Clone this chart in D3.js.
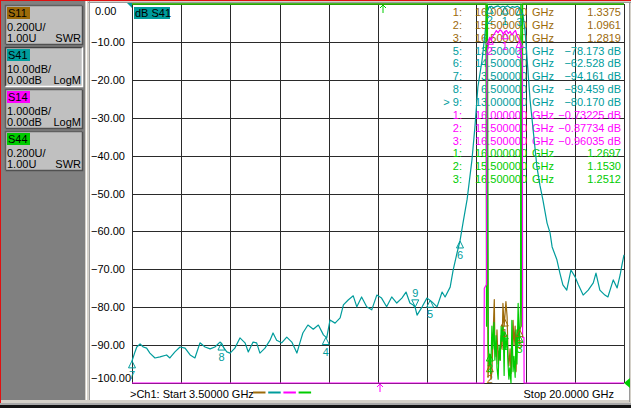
<!DOCTYPE html>
<html><head><meta charset="utf-8">
<script src="https://cdn.jsdelivr.net/npm/d3@7"></script>
<style>
html,body{margin:0;padding:0;background:#fff;overflow:hidden}
svg{display:block;font-family:"Liberation Sans",Arial,sans-serif;font-size:11px}
</style></head><body>
<svg id="c" width="631" height="408"></svg>
<script>
// ---------- data ----------
const startGHz = 3.5, stopGHz = 20.0;
const yTicksDb = [0,-10,-20,-30,-40,-50,-60,-70,-80,-90,-100];

const traceNames   = ["S11","S41","S14","S44"];
const traceColors  = ["#9c6a0a","#009c9c","#ff00ff","#00cc00"];
const traceScaleA  = ["0.200U/","10.00dB/","1.000dB/","0.200U/"];
const traceScaleB  = ["1.00U","0.00dB","0.00dB","1.00U"];
const traceFormat  = ["SWR","LogM","LogM","SWR"];

// S41 transmission (dB)
const freqS41 = [3.50,3.60,3.66,3.77,3.88,3.99,4.10,4.27,4.44,4.66,4.77,4.94,5.11,5.28,5.45,5.61,5.78,5.95,6.12,6.28,6.45,6.50,6.56,6.68,6.79,6.95,7.12,7.29,7.40,7.56,7.68,7.79,7.96,8.13,8.23,8.35,8.52,8.69,8.86,9.03,9.13,9.23,9.40,9.58,9.75,9.92,10.03,10.14,10.31,10.48,10.59,10.75,10.92,11.04,11.20,11.37,11.54,11.71,11.87,12.04,12.21,12.38,12.55,12.69,12.82,12.93,13.00,13.06,13.23,13.39,13.50,13.56,13.73,13.90,14.00,14.17,14.27,14.40,14.50,14.60,14.74,14.90,15.00,15.10,15.24,15.34,15.41,15.47,15.55,15.62,15.70,15.78,15.86,15.94,16.02,16.10,16.18,16.26,16.34,16.42,16.50,16.56,16.61,16.68,16.85,17.08,17.18,17.28,17.42,17.52,17.59,17.75,17.85,17.95,18.08,18.22,18.36,18.47,18.63,18.80,18.97,19.06,19.19,19.36,19.46,19.64,19.77,19.87,19.93,20.00];
const dbS41 = [-94.2,-91.8,-90.5,-89.7,-90.5,-90.8,-92.1,-93.4,-93.1,-92.6,-93.4,-91.8,-90.5,-90.8,-92.6,-93.4,-89.4,-90.5,-91.0,-90.5,-89.2,-89.5,-90.5,-91.8,-92.1,-90.8,-88.1,-89.4,-91.8,-89.2,-89.4,-92.1,-90.8,-88.7,-86.8,-88.7,-89.4,-87.9,-89.2,-92.1,-89.4,-86.8,-84.7,-85.8,-84.7,-87.3,-88.1,-83.4,-84.2,-82.8,-79.4,-78.1,-77.0,-79.9,-77.3,-79.9,-80.7,-76.8,-77.6,-79.9,-77.3,-78.9,-77.6,-76.0,-78.9,-79.4,-80.2,-82.1,-79.9,-77.6,-78.2,-78.6,-79.9,-76.0,-77.3,-74.7,-70.2,-65.7,-62.5,-57.8,-51.5,-41.2,-32.5,-21.9,-14.8,-7.7,-2.1,-0.8,-0.6,-1.0,-0.7,-0.5,-0.9,-0.6,-0.8,-0.5,-1.0,-0.7,-0.9,-0.6,-1.0,-1.6,-2.9,-6.9,-25.3,-43.0,-47.8,-51.7,-57.8,-60.4,-64.1,-67.5,-71.0,-74.1,-75.5,-70.2,-72.0,-74.1,-76.8,-75.5,-73.6,-71.0,-75.5,-76.8,-77.3,-72.8,-74.9,-71.5,-68.9,-66.2];

// S14 transmission (dB, 1 dB/div)
const freqS14 = [3.50,15.30,15.315,15.39,15.40,15.45,15.50,15.55,15.60,15.66,15.72,15.78,15.84,15.90,15.95,16.00,16.06,16.12,16.18,16.24,16.30,16.36,16.42,16.50,16.55,16.59,16.60,16.645,16.65,20.00];
const dbS14   = [-20,-15,-7.5,-7.4,-1.3,-1.1,-0.88,-0.95,-0.85,-0.78,-0.70,-0.76,-0.68,-0.72,-0.80,-0.73,-0.70,-0.78,-0.72,-0.82,-0.75,-0.70,-0.85,-0.96,-1.2,-1.6,-8.8,-8.8,-15,-20];

// S11 SWR
const freqS11 = [3.50,15.39,15.44,15.47,15.51,15.54,15.57,15.61,15.65,15.67,15.71,15.74,15.78,15.81,15.84,15.88,15.91,15.94,15.98,16.00,16.04,16.08,16.11,16.14,16.18,16.21,16.24,16.28,16.31,16.35,16.38,16.41,16.45,16.48,16.50,16.55,16.58,20.00];
const swrS11  = [5.0,4.0,1.03,1.12,1.09,1.02,1.06,1.25,1.44,1.20,1.14,1.28,1.10,1.17,1.12,1.25,1.18,1.42,1.30,1.34,1.43,1.35,1.15,1.09,1.18,1.05,1.12,1.33,1.20,1.30,1.06,1.22,1.28,1.24,1.28,1.30,4.0,5.0];

// S44 SWR
const freqS44 = [3.50,15.37,15.39,15.42,15.45,15.48,15.50,15.53,15.57,15.60,15.64,15.67,15.71,15.74,15.78,15.81,15.85,15.88,15.91,15.95,15.98,16.00,16.04,16.08,16.11,16.14,16.17,16.21,16.24,16.28,16.31,16.35,16.38,16.41,16.45,16.48,16.50,16.53,16.54,16.58,16.60,20.00];
const swrS44  = [5.0,4.0,1.30,4.0,1.20,1.10,1.153,1.05,1.30,1.18,1.32,1.12,1.25,1.08,1.02,1.20,1.12,1.30,1.22,1.30,1.04,1.27,1.18,1.25,1.10,1.02,1.08,1.00,1.33,1.06,1.14,1.03,1.28,1.10,1.42,1.20,1.25,1.40,4.0,1.30,4.0,5.0];

// markers
const mkS11 = {ids:[1,2,3], f:[16.0,15.5,16.5], v:[1.3375,1.0961,1.2819]};
const mkS41 = {ids:[1,2,3,4,5,6,7,8,9], f:[16.0,15.5,16.5,10.0,13.5,14.5,3.5,6.5,13.0], v:[-0.8,-0.6,-1.0,-88.0,-78.173,-62.528,-94.161,-89.459,-80.170]};
const mkS14 = {ids:[1,2,3], f:[16.0,15.5,16.5], v:[-0.73225,-0.87734,-0.96035]};
const mkS44 = {ids:[1,2,3], f:[16.0,15.5,16.5], v:[1.2697,1.1530,1.2512]};
const activeS41 = 9;

// ---------- drawing ----------
const svg = d3.select("#c");
const W = 631, H = 408;
const L = 132, R = 624, T = 4, B = 383;

const x = d3.scaleLinear().domain([startGHz, stopGHz]).range([L, R]);
const y41 = d3.scaleLinear().domain([-100, 0]).range([B, T]).clamp(true);
const y14 = d3.scaleLinear().domain([-10, 0]).range([B, T]).clamp(true);
const ySWR = d3.scaleLinear().domain([1, 3]).range([B, T]).clamp(true);

// frame & background
svg.append("rect").attr("x",0).attr("y",0).attr("width",W).attr("height",H).attr("fill","#d4d0c8");
svg.append("rect").attr("x",90).attr("y",3).attr("width",539).attr("height",397).attr("fill","#fff");
svg.append("rect").attr("x",1).attr("y",1).attr("width",84).attr("height",399).attr("fill","#808080");
svg.append("line").attr("x1",86.5).attr("x2",86.5).attr("y1",1).attr("y2",400).attr("stroke","#fff");
svg.append("line").attr("x1",89.5).attr("x2",89.5).attr("y1",1).attr("y2",400).attr("stroke","#9a9a9a");
svg.append("line").attr("x1",88).attr("x2",W).attr("y1",2.5).attr("y2",2.5).attr("stroke","#9a9a9a");
svg.append("line").attr("x1",629.5).attr("x2",629.5).attr("y1",2).attr("y2",402).attr("stroke","#9a9a9a");
svg.append("rect").attr("x",0).attr("y",403).attr("width",W).attr("height",2).attr("fill","#a8a8a8");
svg.append("rect").attr("x",0).attr("y",405).attr("width",W).attr("height",3).attr("fill","#141414");
svg.append("line").attr("x1",0).attr("x2",W).attr("y1",0.5).attr("y2",0.5).attr("stroke","#e01010");
svg.append("line").attr("x1",0.5).attr("x2",0.5).attr("y1",0).attr("y2",403).attr("stroke","#e01010");

// trace info buttons
const boxTop = [5,47,89,131];
traceNames.forEach((n,i)=>{
  const g = svg.append("g").attr("transform",`translate(5,${boxTop[i]})`);
  const sel = n === "S41";
  g.append("rect").attr("x",0).attr("y",0).attr("width",78).attr("height",40).attr("fill","#c0c0c0");
  g.append("path").attr("d","M0.5,39.5 V0.5 H77.5").attr("fill","none").attr("stroke", sel?"#404040":"#606060").attr("stroke-width",1.5);
  g.append("path").attr("d","M0.5,39.5 H77.5 V0.5").attr("fill","none").attr("stroke", sel?"#ffffff":"#505050").attr("stroke-width",1.5);
  g.append("rect").attr("x",2).attr("y",2).attr("width",23).attr("height",12).attr("fill",traceColors[i]);
  g.append("text").attr("x",3).attr("y",12).attr("fill","#000").text(n);
  g.append("text").attr("x",2).attr("y",26).attr("fill","#000").text(traceScaleA[i]);
  g.append("text").attr("x",2).attr("y",37).attr("fill","#000").text(traceScaleB[i]);
  g.append("text").attr("x",76).attr("y",37).attr("text-anchor","end").attr("fill","#000").text(traceFormat[i]);
});

// grid
const xDiv = d3.range(11).map(i => startGHz + i*(stopGHz-startGHz)/10);
const grid = svg.append("g");
grid.append("g").attr("transform",`translate(0,${B})`)
  .call(d3.axisBottom(x).tickValues(xDiv).tickSize(-(B-T)).tickFormat(""))
  .call(g=>{g.select(".domain").remove(); g.selectAll("line").attr("stroke","#2a2a2a").attr("shape-rendering","crispEdges");});
grid.append("g").attr("transform",`translate(${L},0)`)
  .call(d3.axisLeft(y41).tickValues(yTicksDb).tickSize(-(R-L)).tickFormat(""))
  .call(g=>{g.select(".domain").remove(); g.selectAll("line").attr("stroke","#2a2a2a").attr("shape-rendering","crispEdges");});

// y labels
svg.append("g").selectAll("text").data(yTicksDb).join("text")
  .attr("x", d => d === 0 ? 95 : 91)
  .attr("y", d => Math.min(Math.max(y41(d), 11), 378) + 4)
  .attr("fill","#000")
  .text(d => d3.format(".2f")(d));

// reference indicators
svg.append("path").attr("d",`M${L-5},${T-1} L${L},${T-1} L${L},${T+4} Z`).attr("fill",traceColors[1]);
svg.append("path").attr("d",`M${R},${B} L${R+6},${B-5} L${R+6},${B+5} Z`).attr("fill",traceColors[3]);

// "dB S41" label
svg.append("rect").attr("x",134).attr("y",7).attr("width",36).attr("height",12).attr("fill",traceColors[1]);
svg.append("text").attr("x",135).attr("y",17).attr("fill","#000").text("dB S41");

// marker table
const fmtF = d3.format(".6f");
const rows = [];
mkS11.ids.forEach((id,i)=>rows.push({n:`${id}:`, f:mkS11.f[i], v:d3.format(".4f")(mkS11.v[i]), c:traceColors[0]}));
mkS41.ids.forEach((id,i)=>{ if(id>=5) rows.push({n:(id===activeS41?"> ":"")+`${id}:`, f:mkS41.f[i], v:d3.format(".3f")(mkS41.v[i])+" dB", c:traceColors[1]}); });
mkS14.ids.forEach((id,i)=>rows.push({n:`${id}:`, f:mkS14.f[i], v:d3.format(".5f")(mkS14.v[i])+" dB", c:traceColors[2]}));
mkS44.ids.forEach((id,i)=>rows.push({n:`${id}:`, f:mkS44.f[i], v:d3.format(".4f")(mkS44.v[i]), c:traceColors[3]}));
const tbl = svg.append("g");
rows.forEach((r,i)=>{
  const yy = 16 + i*12.85;
  tbl.append("text").attr("x",462).attr("y",yy).attr("text-anchor","end").attr("fill",r.c).text(r.n);
  tbl.append("text").attr("x",527).attr("y",yy).attr("text-anchor","end").attr("fill",r.c).text(fmtF(r.f));
  tbl.append("text").attr("x",532).attr("y",yy).attr("fill",r.c).text("GHz");
  tbl.append("text").attr("x",621).attr("y",yy).attr("text-anchor","end").attr("fill",r.c).text(r.v);
});

// top green frame line
svg.append("line").attr("x1",L).attr("x2",R).attr("y1",T).attr("y2",T).attr("stroke",traceColors[3]).attr("stroke-width",1.2);

// traces
function trace(fs, vs, ys, col, w){
  const pts = fs.map((f,i)=>[x(f), ys(vs[i])]);
  svg.append("path").attr("d", d3.line()(pts)).attr("fill","none").attr("stroke",col).attr("stroke-width",w).attr("stroke-linejoin","round");
}
trace(freqS41, dbS41, y41, traceColors[1], 1.2);
trace(freqS11, swrS11, ySWR, traceColors[0], 1.2);
trace(freqS44, swrS44, ySWR, traceColors[3], 1.2);
trace(freqS14, dbS14, y14, traceColors[2], 1.2);

// markers
function markers(mk, ys, col, active){
  mk.ids.forEach((id,i)=>{
    const px = x(mk.f[i]), py = ys(mk.v[i]);
    const g = svg.append("g");
    if(id === active){
      g.append("path").attr("d",`M${px},${py-1} L${px-3.5},${py-8} L${px+3.5},${py-8} Z`).attr("fill","none").attr("stroke",col);
      g.append("text").attr("x",px).attr("y",py-11).attr("text-anchor","middle").attr("fill",col).text(id);
    } else {
      g.append("path").attr("d",`M${px},${py} L${px-3.5},${py+7} L${px+3.5},${py+7} Z`).attr("fill","none").attr("stroke",col);
      g.append("text").attr("x",px).attr("y",py+18).attr("text-anchor","middle").attr("fill",col).text(id);
    }
  });
}
markers(mkS41, y41, traceColors[1], activeS41);
markers(mkS11, ySWR, traceColors[0], -1);
markers(mkS14, y14, traceColors[2], -1);
markers(mkS44, ySWR, traceColors[3], -1);

// stimulus arrows
svg.append("path").attr("d","M383,5 V13 M380,8 L383,5 L386,8").attr("fill","none").attr("stroke",traceColors[3]);
svg.append("path").attr("d","M380,384 V392 M377,387 L380,384 L383,387").attr("fill","none").attr("stroke",traceColors[2]);

// footer
svg.append("text").attr("x",130).attr("y",398).attr("fill","#000").text(">Ch1: Start  3.50000 GHz");
svg.append("text").attr("x",614).attr("y",398).attr("text-anchor","end").attr("fill","#000").text("Stop  20.0000 GHz");
[0,1,2,3].forEach(i=>{
  svg.append("line").attr("x1",253+i*15.2).attr("x2",265.5+i*15.2).attr("y1",392.5).attr("y2",392.5)
    .attr("stroke",traceColors[i]).attr("stroke-width",2);
});
</script></body></html>
